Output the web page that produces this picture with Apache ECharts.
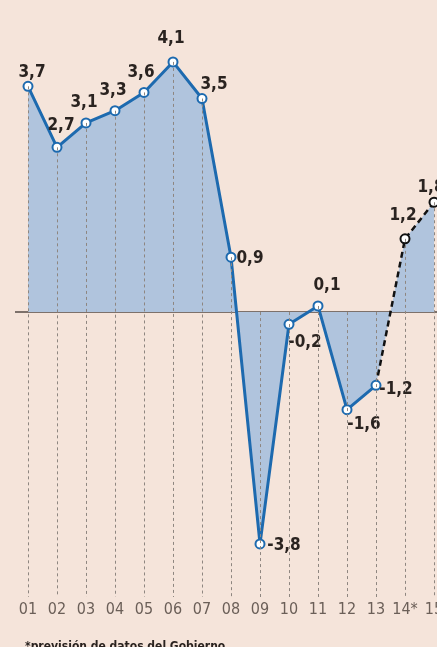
<!DOCTYPE html>
<html>
<head>
<meta charset="utf-8">
<script src="https://cdn.jsdelivr.net/npm/echarts@6/dist/echarts.min.js"></script>
<style>
  html, body { margin: 0; padding: 0; background: #f5e4da; }
  #chart { width: 437px; height: 647px; }
</style>
</head>
<body>
<div id="chart"></div>
<script>
// años (2001 - 2015), 14 y 15 son previsión
var years = ['01', '02', '03', '04', '05', '06', '07', '08', '09', '10', '11', '12', '13', '14*', '15'];
var values = [3.7, 2.7, 3.1, 3.3, 3.6, 4.1, 3.5, 0.9, -3.8, -0.2, 0.1, -1.6, -1.2, 1.2, 1.8];
var firstForecast = 13; // índice de '14*'

// colocación de las etiquetas (desplazamiento respecto al punto)
var labelOffsets = [
    [4, -14], [4, -22], [-2, -20], [-2, -20], [-3, -20], [-2, -23], [12, -14],
    [19, 1], [24, 2], [16, 18], [9, -20], [17, 15], [20, 4], [-2, -23], [-3, -15]
];

var yMin = -4.67, yMax = 5;
var blue = '#1d6aaf';
var fill = '#b0c4dd';
var ink = '#2a2320';
var labelFont = '"Liberation Sans Narrow", "DejaVu Sans Condensed", sans-serif';

function fmt(v) {
    return String(v).replace('.', ',');
}

function labelFor(i) {
    return {
        show: true,
        position: 'inside',
        offset: labelOffsets[i],
        formatter: fmt(values[i]),
        color: ink,
        fontFamily: labelFont,
        fontWeight: 'bold',
        fontSize: 17
    };
}

var solidData = values.map(function (v, i) {
    if (i >= firstForecast) return null;
    return { value: v, label: labelFor(i) };
});

var dashedData = values.map(function (v, i) {
    if (i < firstForecast - 1) return null;
    if (i === firstForecast - 1) return { value: v, symbol: 'none', label: { show: false } };
    return { value: v, label: labelFor(i) };
});

// líneas verticales punteadas desde el punto (o el cero) hasta abajo
var guideLines = values.map(function (v, i) {
    return [
        { coord: [years[i], Math.max(v, 0)] },
        { coord: [years[i], yMin] }
    ];
});

var chart = echarts.init(document.getElementById('chart'));

var option = {
    backgroundColor: '#f5e4da',
    animation: false,
    grid: { left: 28, right: 3, top: 7, bottom: 50, outerBoundsMode: 'none', containLabel: false },
    xAxis: {
        type: 'category',
        data: years,
        boundaryGap: false,
        axisLine: { show: false, onZero: false },
        axisTick: { show: false },
        axisLabel: {
            interval: 0,
            hideOverlap: false,
            margin: 5,
            color: '#6b5f58',
            fontFamily: labelFont,
            fontSize: 16
        },
        splitLine: { show: false }
    },
    yAxis: {
        type: 'value',
        min: yMin,
        max: yMax,
        show: false,
        splitLine: { show: false }
    },
    series: [
        {
            type: 'line',
            data: values.map(function () { return null; }),
            silent: true,
            symbol: 'none',
            z: 1,
            markLine: {
                silent: true,
                symbol: 'none',
                label: { show: false },
                lineStyle: { color: '#8e8680', width: 1, type: [3, 3] },
                data: guideLines
            }
        },
        {
            type: 'line',
            data: solidData,
            z: 3,
            symbol: 'circle',
            symbolSize: 9,
            itemStyle: { color: '#ffffff', borderColor: blue, borderWidth: 2 },
            lineStyle: { color: blue, width: 3 },
            areaStyle: { color: fill, opacity: 1 }
        },
        {
            type: 'line',
            data: dashedData,
            z: 3,
            symbol: 'circle',
            symbolSize: 9,
            itemStyle: { color: '#ffffff', borderColor: '#111111', borderWidth: 2 },
            lineStyle: { color: '#111111', width: 2.5, type: [6, 4] },
            areaStyle: { color: fill, opacity: 1 }
        }
    ]
};

chart.setOption(option);

// línea del cero, prolongada hacia la izquierda
var zeroY = chart.convertToPixel({ yAxisIndex: 0 }, 0);
chart.setOption({
    graphic: [
        {
            type: 'line',
            z: 2,
            shape: { x1: 15, y1: zeroY, x2: 437, y2: zeroY },
            style: { stroke: '#7d716b', lineWidth: 2 }
        },
        {
            type: 'text',
            left: 25,
            top: 641,
            style: {
                text: '*previsión de datos del Gobierno',
                fill: ink,
                font: 'bold 12px ' + labelFont
            }
        }
    ]
});
</script>
</body>
</html>
